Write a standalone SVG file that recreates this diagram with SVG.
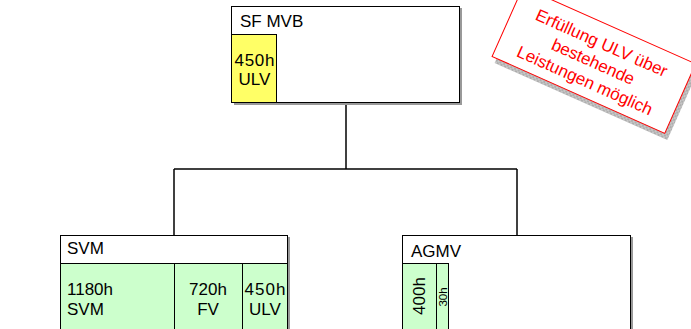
<svg xmlns="http://www.w3.org/2000/svg" width="691" height="329" viewBox="0 0 691 329">
<style>
.box{fill:#fff;stroke:#000;stroke-width:1}
.sh{fill:#999;stroke:none}
.g{fill:#ccffcc;stroke:#000;stroke-width:1}
.y{fill:#ffff66;stroke:#000;stroke-width:1}
.t{font-family:"Liberation Sans",Arial,sans-serif;font-size:17px;fill:#000}
.c{text-anchor:middle}
.con{stroke:#000;stroke-width:1.5;fill:none}
.note{font-family:"Liberation Sans",Arial,sans-serif;font-size:17px;fill:#ff0000;text-anchor:middle}
</style>
<defs>
<pattern id="hatch" width="4" height="4" patternUnits="userSpaceOnUse">
<rect width="4" height="4" fill="#c8c8c8"/>
<path d="M0,0L4,4M4,0L0,4" stroke="#9a9a9a" stroke-width="0.6"/>
</pattern>
</defs>
<g id="connectors">
<line class="con" x1="346" y1="103" x2="346" y2="169"/>
<line class="con" x1="174" y1="169" x2="517" y2="169"/>
<line class="con" x1="174" y1="169" x2="174" y2="235"/>
<line class="con" x1="517" y1="169" x2="517" y2="235"/>
</g>
<g id="sfmvb">
<rect class="sh" x="234" y="8" width="228" height="97"/>
<rect class="box" x="231.5" y="6.5" width="228" height="96"/>
<rect class="y" x="231.5" y="34.5" width="45" height="68"/>
<text class="t" x="240" y="27">SF MVB</text>
<text class="t c" x="254.5" y="66" textLength="40">450h</text>
<text class="t c" x="254.5" y="85">ULV</text>
</g>
<g id="svm">
<rect class="sh" x="62" y="237" width="228" height="100"/>
<rect class="box" x="60.5" y="235.5" width="227" height="100"/>
<rect class="g" x="60.5" y="263.5" width="114" height="80"/>
<rect class="g" x="174.5" y="263.5" width="68" height="80"/>
<rect class="g" x="242.5" y="263.5" width="45" height="80"/>
<text class="t" x="67" y="254">SVM</text>
<text class="t" x="67" y="295">1180h</text>
<text class="t" x="67" y="315">SVM</text>
<text class="t c" x="208" y="295">720h</text>
<text class="t c" x="208" y="315">FV</text>
<text class="t c" x="265" y="295" textLength="41">450h</text>
<text class="t c" x="265" y="315">ULV</text>
</g>
<g id="agmv">
<rect class="sh" x="404" y="237" width="229" height="100"/>
<rect class="box" x="402.5" y="235.5" width="228" height="100"/>
<rect class="g" x="402.5" y="263.5" width="34" height="80"/>
<rect class="g" x="436.5" y="263.5" width="12" height="80"/>
<text class="t" x="411" y="257">AGMV</text>
<text class="t c" transform="translate(425,296) rotate(-90)">400h</text>
<text class="t c" style="font-size:11.5px" transform="translate(447,297) rotate(-90)">30h</text>
</g>
<g id="note" transform="translate(523,-13) rotate(24)">
<rect x="5" y="5" width="189" height="76" fill="url(#hatch)"/>
<rect x="0" y="0" width="189" height="76" fill="#fff" stroke="#ff0000" stroke-width="1"/>
<text class="note" x="94.5" y="25">Erfüllung ULV über</text>
<text class="note" x="94.5" y="45.5">bestehende</text>
<text class="note" x="94.5" y="66">Leistungen möglich</text>
</g>
</svg>
